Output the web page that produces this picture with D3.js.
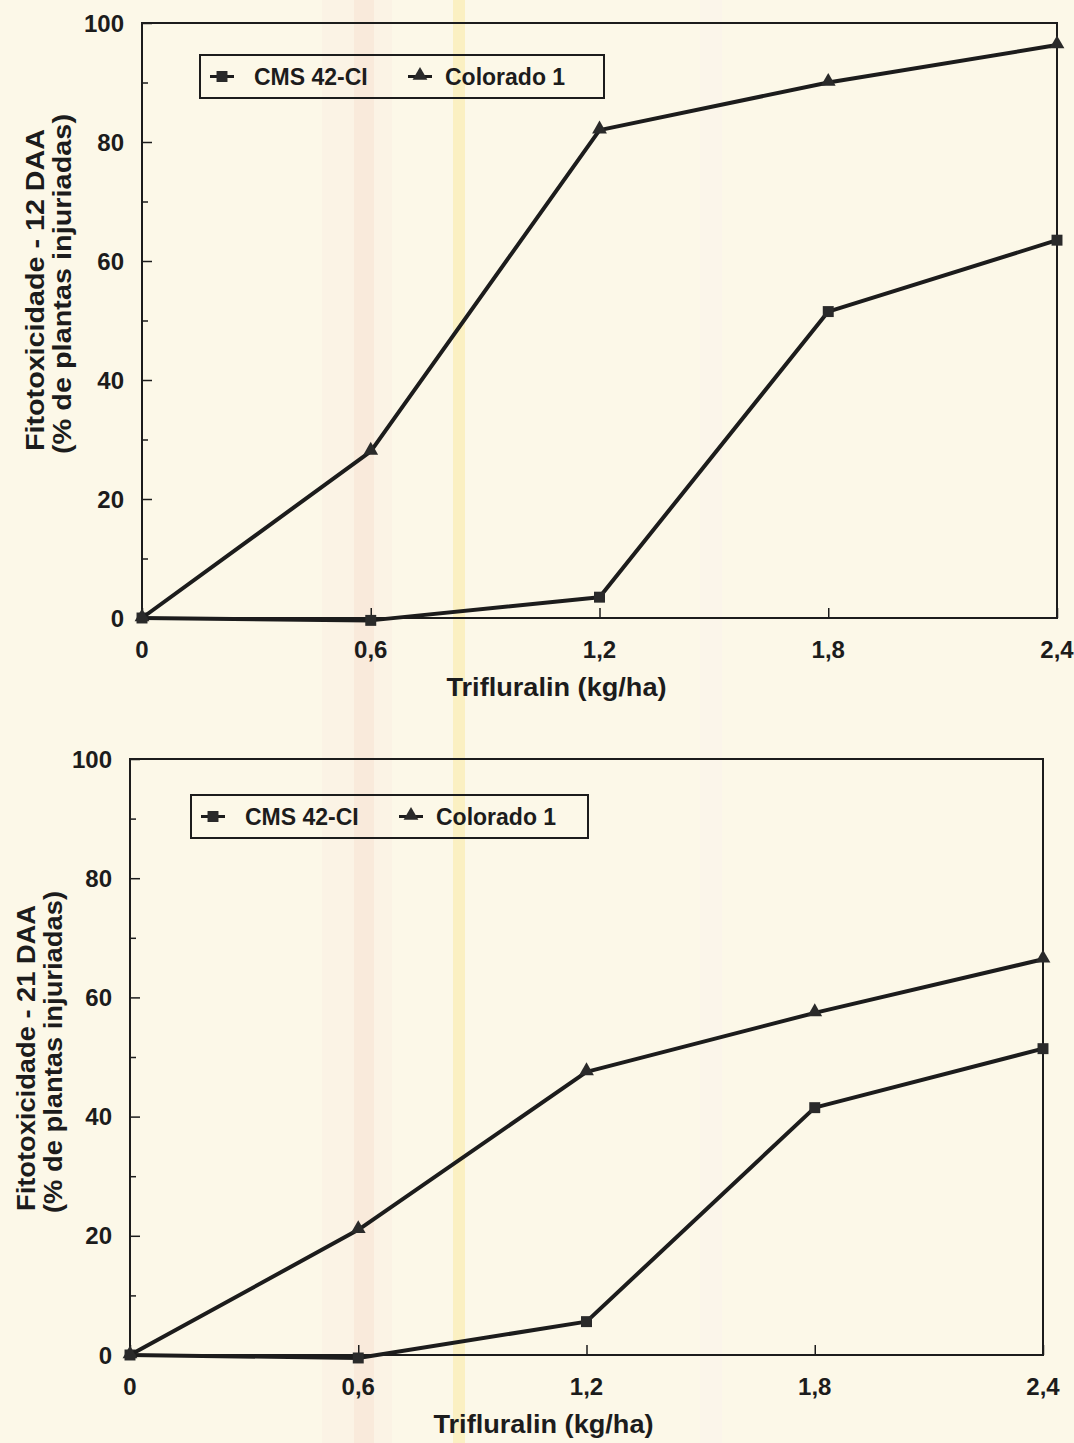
<!DOCTYPE html>
<html><head><meta charset="utf-8">
<script src="https://cdn.jsdelivr.net/npm/d3@7"></script>
<style>body{margin:0;background:#fcf7e5}svg{display:block}</style>
</head><body><svg id="c" width="1074" height="1443"></svg>
<script>
// ---- data ----
const doses = [0, 0.6, 1.2, 1.8, 2.4];
const doseLabels = ["0", "0,6", "1,2", "1,8", "2,4"];
const seriesNames = ["CMS 42-CI", "Colorado 1"];
const cms12 = [0, -0.4, 3.5, 51.5, 63.5];
const colorado12 = [0, 28, 82, 90, 96.3];
const cms21 = [0, -0.5, 5.6, 41.5, 51.4];
const colorado21 = [0, 21, 47.5, 57.4, 66.4];
const yTicks = [0, 20, 40, 60, 80, 100];
const yMinorTicks = [10, 30, 50, 70, 90];
const yTitles = ["Fitotoxicidade - 12 DAA", "Fitotoxicidade - 21 DAA"];
const yTitle2 = "(% de plantas injuriadas)";
const xTitle = "Trifluralin (kg/ha)";

const panels = [
  {left:142, right:1057, top:23, bottom:618, titleY:290, t1x:44, t2x:71, t1len:322, t2len:340,
   legend:{x:200, y:55, w:404, h:43}, series:[cms12, colorado12]},
  {left:130, right:1043, top:759, bottom:1355, titleY:1058, t1x:35, t2x:62, t1len:306, t2len:322,
   legend:{x:191, y:795, w:397, h:43}, series:[cms21, colorado21]}
];

const svg = d3.select("#c");
const FONT = "'Liberation Sans', Arial, sans-serif";
const INK = "#1c1c1c";

// faint scan stripes in the paper background
const stripes = [
  {x:322, w:70, c:"#fbf3e5"}, {x:354, w:20, c:"#f9eadb"},
  {x:453, w:12, c:"#fbf0c2"}, {x:700, w:22, c:"#fbf5ea"}
];
svg.append("rect").attr("width",1074).attr("height",1443).attr("fill","#fcf8e8");
svg.selectAll("rect.stripe").data(stripes).join("rect").attr("class","stripe")
  .attr("x",d=>d.x).attr("width",d=>d.w).attr("y",0).attr("height",1443).attr("fill",d=>d.c);

const sq = d3.symbol().type(d3.symbolSquare).size(120);
const tri = d3.symbol().type(d3.symbolTriangle).size(95);

panels.forEach((p, pi) => {
  const x = d3.scaleLinear().domain([0, 2.4]).range([p.left, p.right]);
  const y = d3.scaleLinear().domain([0, 100]).range([p.bottom, p.top]);
  const g = svg.append("g");

  // frame
  g.append("rect").attr("x", p.left).attr("y", p.top)
    .attr("width", p.right - p.left).attr("height", p.bottom - p.top)
    .attr("fill","none").attr("stroke",INK).attr("stroke-width",2);

  // y axis (inner ticks)
  const yAx = g.append("g").attr("transform",`translate(${p.left},0)`)
    .call(d3.axisRight(y).tickValues(yTicks).tickSize(10).tickFormat(""));
  yAx.select(".domain").remove();
  yAx.selectAll("line").attr("stroke",INK).attr("stroke-width",1.5);
  const yAxm = g.append("g").attr("transform",`translate(${p.left},0)`)
    .call(d3.axisRight(y).tickValues(yMinorTicks).tickSize(6).tickFormat(""));
  yAxm.select(".domain").remove();
  yAxm.selectAll("line").attr("stroke",INK).attr("stroke-width",1.5);
  g.selectAll("text.ytl").data(yTicks).join("text").attr("class","ytl")
    .attr("x", p.left - 18).attr("y", d => y(d)).attr("dy","0.36em")
    .attr("text-anchor","end").attr("font-family",FONT).attr("font-weight","bold")
    .attr("font-size",24).attr("fill",INK).text(d => d);

  // x axis (inner ticks)
  const xAx = g.append("g").attr("transform",`translate(0,${p.bottom})`)
    .call(d3.axisTop(x).tickValues(doses).tickSize(10).tickFormat(""));
  xAx.select(".domain").remove();
  xAx.selectAll("line").attr("stroke",INK).attr("stroke-width",1.5);
  g.selectAll("text.xtl").data(doses).join("text").attr("class","xtl")
    .attr("x", d => x(d)).attr("y", p.bottom + 40)
    .attr("text-anchor","middle").attr("font-family",FONT).attr("font-weight","bold")
    .attr("font-size",24).attr("fill",INK).text((d,i) => doseLabels[i]);

  // titles
  g.append("text").attr("x", (p.left + p.right)/2 - 43).attr("y", p.bottom + 78)
    .attr("text-anchor","middle").attr("font-family",FONT).attr("font-weight","bold")
    .attr("font-size",25).attr("textLength",220).attr("lengthAdjust","spacingAndGlyphs")
    .attr("fill",INK).text(xTitle);
  g.append("text").attr("transform",`translate(${p.t1x},${p.titleY}) rotate(-90)`)
    .attr("text-anchor","middle").attr("font-family",FONT).attr("font-weight","bold")
    .attr("font-size",25).attr("textLength",p.t1len).attr("lengthAdjust","spacingAndGlyphs")
    .attr("fill",INK).text(yTitles[pi]);
  g.append("text").attr("transform",`translate(${p.t2x},${p.titleY - 6}) rotate(-90)`)
    .attr("text-anchor","middle").attr("font-family",FONT).attr("font-weight","bold")
    .attr("font-size",25).attr("textLength",p.t2len).attr("lengthAdjust","spacingAndGlyphs")
    .attr("fill",INK).text(yTitle2);

  // series
  const line = d3.line().x((d,i) => x(doses[i])).y(d => y(d));
  p.series.forEach((vals, si) => {
    g.append("path").datum(vals).attr("d", line).attr("fill","none")
      .attr("stroke",INK).attr("stroke-width",4).attr("stroke-linejoin","round");
    g.selectAll(`path.m${si}`).data(vals).join("path").attr("class",`m${si}`)
      .attr("transform",(d,i) => `translate(${x(doses[i])},${y(d) + (si===1?-1:0)})`)
      .attr("d", si === 0 ? sq : tri).attr("fill","#2a2a2a");
  });

  // legend
  const L = p.legend;
  const lg = g.append("g").attr("transform",`translate(${L.x},${L.y})`);
  lg.append("rect").attr("width",L.w).attr("height",L.h)
    .attr("fill","none").attr("stroke",INK).attr("stroke-width",2);
  const items = [{ox:10, tx:54}, {ox:208, tx:245}];
  seriesNames.forEach((name, si) => {
    const it = items[si];
    lg.append("line").attr("x1", it.ox).attr("x2", it.ox + 24)
      .attr("y1", L.h/2).attr("y2", L.h/2).attr("stroke",INK).attr("stroke-width",3);
    lg.append("path").attr("transform",`translate(${it.ox + 12},${L.h/2 - (si?1:0)})`)
      .attr("d", si === 0 ? sq : tri).attr("fill","#2a2a2a");
    lg.append("text").attr("x", it.tx).attr("y", L.h/2).attr("dy","0.36em")
      .attr("font-family",FONT).attr("font-weight","bold").attr("font-size",23)
      .attr("fill",INK).text(name);
  });
});
</script></body></html>
